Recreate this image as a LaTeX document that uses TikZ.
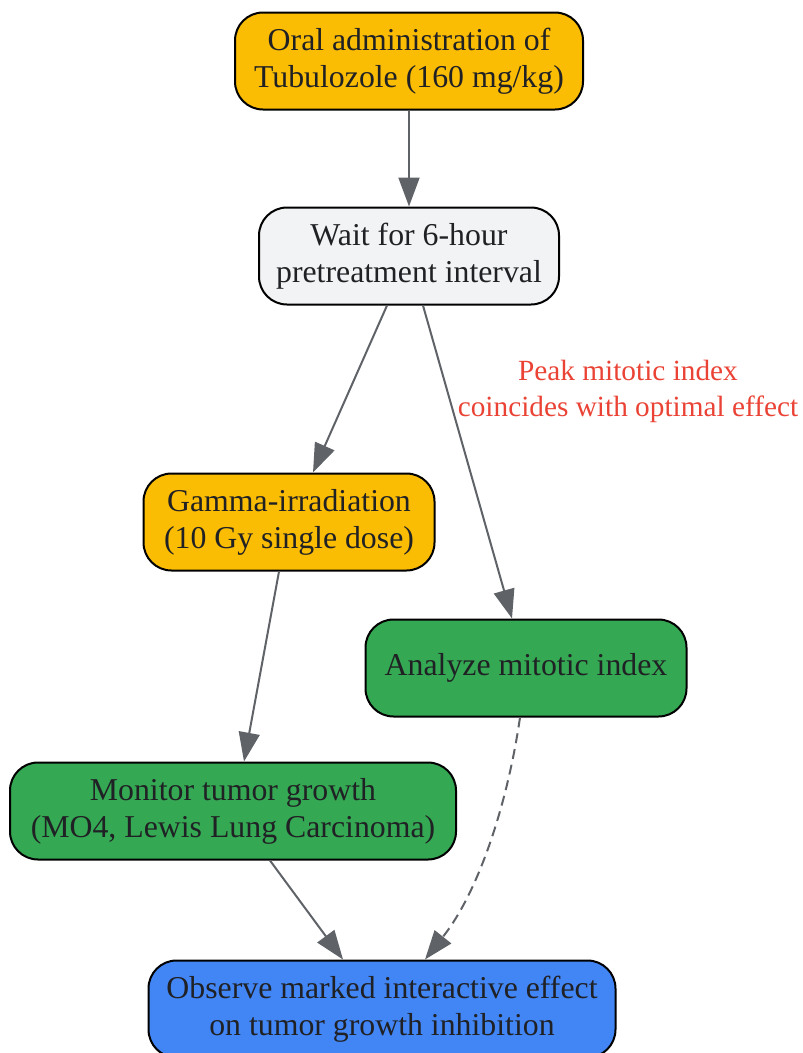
\documentclass[tikz,border=0pt]{standalone}
\usepackage{fontspec}
\setmainfont{Liberation Serif}
\usepackage{xcolor}
\usetikzlibrary{arrows.meta}

\definecolor{drugorange}{HTML}{FBBC04}
\definecolor{waitgray}{HTML}{F1F3F4}
\definecolor{assaygreen}{HTML}{34A853}
\definecolor{resultblue}{HTML}{4285F4}
\definecolor{edgegray}{HTML}{5F6368}
\definecolor{notered}{HTML}{EA4335}
\definecolor{inkdark}{HTML}{202124}

\begin{document}
\begin{tikzpicture}[
  x=1pt, y=-1pt,
  stepbox/.style={draw=black, line width=2pt, rounded corners=28pt, align=center,
    minimum height=97pt, inner sep=0pt, text=inkdark, font=\fontsize{31.8}{37}\selectfont},
  flow/.style={draw=edgegray, line width=2pt, -{Triangle[length=29pt, width=21pt]}},
  note/.style={align=center, text=notered, font=\fontsize{29.3}{36}\selectfont}
]
\useasboundingbox (0,0) rectangle (803,1053);

\node[stepbox, fill=drugorange, minimum width=348pt] (oral) at (409,61) {Oral administration of\\Tubulozole (160 mg/kg)};
\node[stepbox, fill=waitgray, minimum width=300pt] (wait) at (409,256) {Wait for 6-hour\\pretreatment interval};
\node[stepbox, fill=drugorange, minimum width=291pt] (gamma) at (289,522) {Gamma-irradiation\\(10 Gy single dose)};
\node[stepbox, fill=assaygreen, minimum width=321pt] (mitotic) at (526,668) {Analyze mitotic index};
\node[stepbox, fill=assaygreen, minimum width=446pt] (tumor) at (233,811) {Monitor tumor growth\\(MO4, Lewis Lung Carcinoma)};
\node[stepbox, fill=resultblue, minimum width=467pt] (effect) at (382,1009) {Observe marked interactive effect\\on tumor growth inhibition};

\node[note] (peak) at (628,391) {Peak mitotic index\\coincides with optimal effect};

% connectors
\draw[flow] (oral) -- (wait);
\draw[flow] ([xshift=-22pt]wait.south) -- ([xshift=24pt]gamma.north);
\draw[flow] ([xshift=14pt]wait.south) -- ([xshift=-14pt]mitotic.north);
\draw[flow] ([xshift=-10pt]gamma.south) -- ([xshift=11pt]tumor.north);
\draw[flow] ([xshift=37pt]tumor.south) -- ([xshift=-39pt]effect.north);
\draw[flow, dashed, dash pattern=on 10pt off 6pt] ([xshift=-6pt]mitotic.south) .. controls (508,800) and (480,890) .. ([xshift=43pt]effect.north);

\end{tikzpicture}
\end{document}
